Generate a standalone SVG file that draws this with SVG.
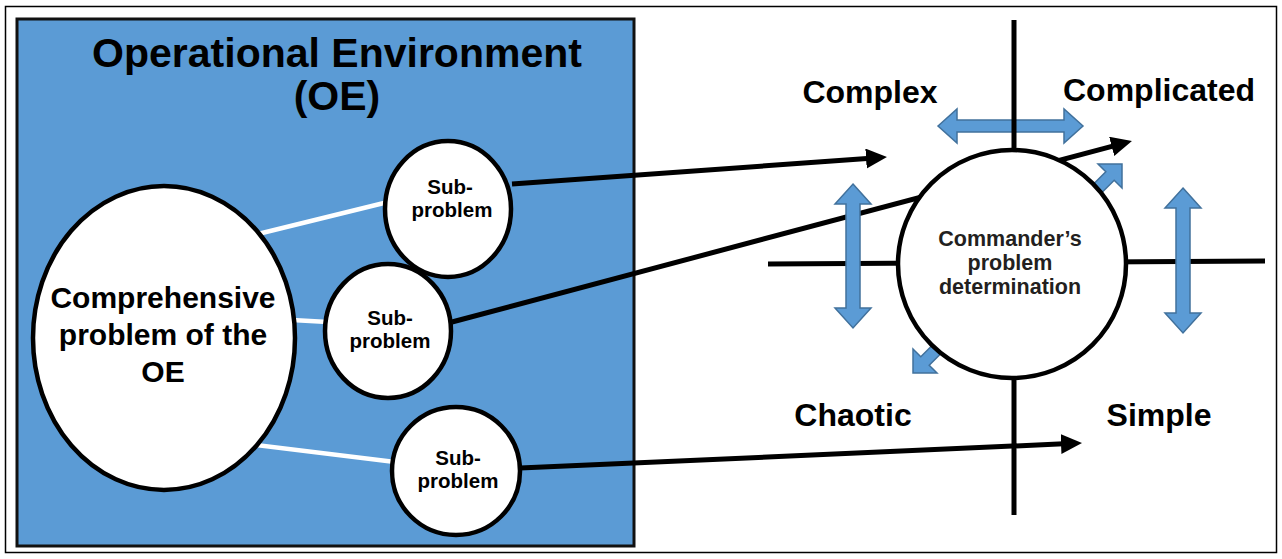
<svg xmlns="http://www.w3.org/2000/svg" width="1282" height="559" viewBox="0 0 1282 559">
<defs>
<style>
.t{font-family:"Liberation Sans",Arial,sans-serif;font-weight:bold;text-anchor:middle;fill:#000}
.d{fill:#231f20}
.node{fill:#fff;stroke:#000;stroke-width:4.5}
.wl{stroke:#fff;stroke-width:4.5;fill:none}
.bl{stroke:#000;stroke-width:5;fill:none}
.conn{stroke:#000;stroke-width:5;fill:none;marker-end:url(#ah)}
.ba{fill:#5B9BD5;stroke:#41719C;stroke-width:1.5;stroke-linejoin:miter}
</style>
<marker id="ah" markerUnits="userSpaceOnUse" markerWidth="22" markerHeight="22" refX="8" refY="10" orient="auto">
<path d="M0,0 L21,10 L0,20 Z" fill="#000"/>
</marker>
</defs>
<rect x="0" y="0" width="1282" height="559" fill="#fff"/>
<rect x="5.5" y="6.5" width="1271" height="546" fill="none" stroke="#000" stroke-width="1.5"/>
<g id="oe">
<rect x="17" y="19" width="617" height="527" fill="#5B9BD5" stroke="#111" stroke-width="3"/>
<text class="t" x="337" y="67" font-size="41">Operational Environment</text>
<text class="t" x="337" y="110" font-size="41">(OE)</text>
</g>
<g id="white-links">
<line class="wl" x1="258" y1="234" x2="388" y2="202"/>
<line class="wl" x1="292" y1="320" x2="328" y2="322"/>
<line class="wl" x1="215" y1="440" x2="395" y2="462"/>
</g>
<g id="comprehensive">
<ellipse class="node" cx="164" cy="338" rx="131" ry="152"/>
<text class="t" x="163" y="308" font-size="30">Comprehensive</text>
<text class="t" x="163" y="345" font-size="30">problem of the</text>
<text class="t" x="163" y="382" font-size="30">OE</text>
</g>
<g id="sub1">
<ellipse class="node" cx="448" cy="209" rx="63" ry="68"/>
<text class="t" x="450" y="194" font-size="20.5">Sub-</text>
<text class="t" x="452" y="217" font-size="20.5">problem</text>
</g>
<g id="sub2">
<ellipse class="node" cx="388" cy="331" rx="63" ry="67"/>
<text class="t" x="390" y="325" font-size="20.5">Sub-</text>
<text class="t" x="390" y="348" font-size="20.5">problem</text>
</g>
<g id="sub3">
<ellipse class="node" cx="456" cy="471" rx="64" ry="64"/>
<text class="t" x="458" y="465" font-size="20.5">Sub-</text>
<text class="t" x="458" y="488" font-size="20.5">problem</text>
</g>
<g id="blue-h">
<path class="ba" d="M938,126 L957,109 L957,120 L1064,120 L1064,109 L1083,126 L1064,143 L1064,132 L957,132 L957,143 Z"/>
</g>
<g id="axes">
<line class="bl" x1="1014" y1="20" x2="1014" y2="515"/>
<line class="bl" x1="768" y1="264" x2="1265" y2="261"/>
</g>
<g id="connectors">
<line class="conn" x1="512" y1="184" x2="874" y2="158"/>
<line class="conn" x1="452" y1="322" x2="1119.4" y2="144.3"/>
<line class="conn" x1="520" y1="468" x2="1069" y2="443.6"/>
</g>
<g id="blue-arrows">
<path class="ba" d="M853,184 L871,204 L860,204 L860,308 L871,308 L853,328 L835,308 L846,308 L846,204 L835,204 Z"/>
<path class="ba" d="M1183,188 L1201,208 L1190,208 L1190,313 L1201,313 L1183,333 L1165,313 L1176,313 L1176,208 L1165,208 Z"/>
<path class="ba" d="M1122,164 L1122,188 L1114.2,180.2 L1084.2,210.2 L1075.8,201.8 L1105.8,171.8 L1098,164 Z"/>
<path class="ba" d="M913,373 L913,349 L920.8,356.8 L950.8,326.8 L959.2,335.2 L929.2,365.2 L937,373 Z"/>
</g>
<g id="commander">
<ellipse class="node" cx="1012" cy="264" rx="114" ry="114"/>
<text class="t d" x="1010" y="246" font-size="21.5">Commander’s</text>
<text class="t d" x="1010" y="270" font-size="21.5">problem</text>
<text class="t d" x="1010" y="294" font-size="21.5">determination</text>
</g>
<g id="labels">
<text class="t" x="870" y="103" font-size="32">Complex</text>
<text class="t" x="1159" y="101" font-size="32">Complicated</text>
<text class="t" x="853" y="426" font-size="32">Chaotic</text>
<text class="t" x="1159" y="426" font-size="32">Simple</text>
</g>
</svg>
